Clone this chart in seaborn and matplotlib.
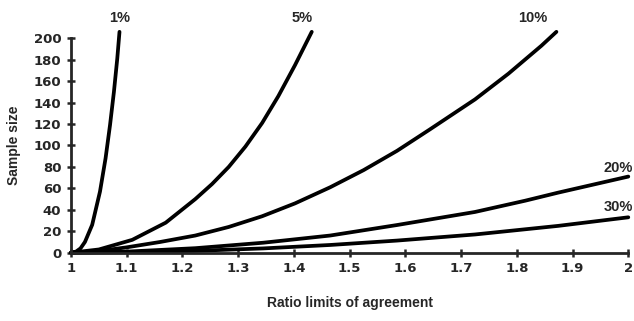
import numpy as np
import pandas as pd
import matplotlib
matplotlib.use("Agg")
import matplotlib.pyplot as plt
import seaborn as sns

# values
ratio_1 = [1.0, 1.009, 1.017, 1.025, 1.038, 1.052, 1.062, 1.070, 1.077, 1.083, 1.087]
n_1 = [0, 1, 4, 10, 26, 57, 88, 119, 150, 181, 206]

ratio_5 = [1.0, 1.05, 1.11, 1.17, 1.223, 1.253, 1.283, 1.313, 1.343, 1.372, 1.402, 1.432]
n_5 = [0, 3, 12, 28, 50, 64, 80, 99, 121, 146, 175, 206]

ratio_10 = [1.0, 1.05, 1.1, 1.16, 1.223, 1.283, 1.343, 1.402, 1.465, 1.525, 1.585, 1.644, 1.725, 1.785, 1.844, 1.871]
n_10 = [0, 1.5, 5, 10, 16, 24, 34, 46, 61, 77, 95, 115, 143, 167, 193, 206]

ratio_20 = [1.0, 1.1, 1.223, 1.345, 1.465, 1.585, 1.725, 1.815, 1.874, 2.0]
n_20 = [0, 1, 4.2, 9.3, 16, 25.8, 38, 48.5, 56, 71]

ratio_30 = [1.0, 1.1, 1.223, 1.345, 1.465, 1.585, 1.725, 1.874, 2.0]
n_30 = [0, 0.4, 1.7, 4, 7.2, 11.3, 17, 25, 33]

curves = {
    "1%": (ratio_1, n_1),
    "5%": (ratio_5, n_5),
    "10%": (ratio_10, n_10),
    "20%": (ratio_20, n_20),
    "30%": (ratio_30, n_30),
}
# label anchors (ratio, sample size)
label_pos = {
    "1%": (1.087, 219, "center"),
    "5%": (1.415, 219, "center"),
    "10%": (1.829, 219, "center"),
    "20%": (2.008, 79, "right"),
    "30%": (2.008, 43, "right"),
}

x_ticks = [1, 1.1, 1.2, 1.3, 1.4, 1.5, 1.6, 1.7, 1.8, 1.9, 2]
x_ticklabels = ["1", "1.1", "1.2", "1.3", "1.4", "1.5", "1.6", "1.7", "1.8", "1.9", "2"]
y_ticks = list(range(0, 201, 20))

sns.set_style("ticks")
plt.rcParams["font.family"] = ["Liberation Sans", "DejaVu Sans"]
plt.rcParams["font.weight"] = "bold"

fig = plt.figure(figsize=(6.34, 3.21), dpi=100)
ax = fig.add_axes([0.112, 0.2128, 0.879, 0.668])

for name, (xs, ys) in curves.items():
    df = pd.DataFrame({"ratio": xs, "n": ys})
    sns.lineplot(data=df, x="ratio", y="n", color="black", linewidth=2.7,
                 ax=ax, clip_on=False, sort=True, estimator=None)
    lx, ly, ha = label_pos[name]
    ax.text(lx, ly, name, ha=ha, va="center", fontsize=10.5, fontweight="bold",
            clip_on=False)

ax.set_xlim(1, 2)
ax.set_ylim(0, 200)
ax.set_xticks(x_ticks)
ax.set_xticklabels(x_ticklabels)
ax.set_yticks(y_ticks)
ax.tick_params(direction="inout", length=6, width=1.8, labelsize=9.5, pad=4)
for lab in ax.get_xticklabels() + ax.get_yticklabels():
    lab.set_fontfamily(["DejaVu Sans"])
    lab.set_fontweight("bold")

for s in ["top", "right"]:
    ax.spines[s].set_visible(False)
for s in ["left", "bottom"]:
    ax.spines[s].set_linewidth(2)

ax.set_xlabel("Ratio limits of agreement", fontsize=10, fontweight="bold", labelpad=15)
ax.set_ylabel("Sample size", fontsize=10, fontweight="bold", labelpad=9)

fig.savefig("out.png", dpi=100)
